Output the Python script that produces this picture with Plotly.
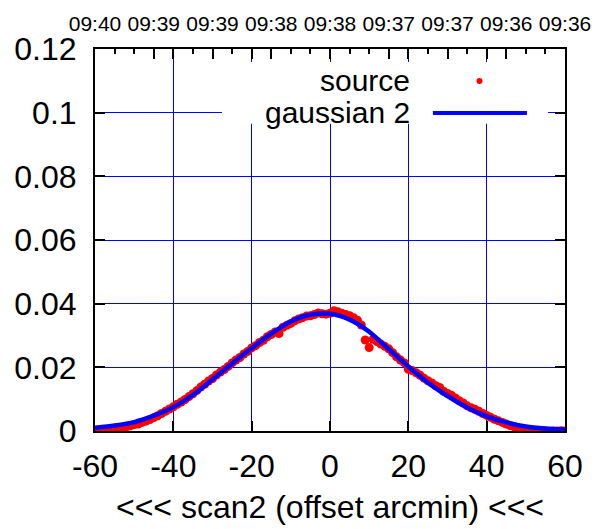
import plotly.graph_objects as go

# ---- data ----
src_x = list(range(-60, 61))
src_y = [
    0.0000, 0.0001, 0.0000, 0.0003, 0.0004, 0.0006, 0.0008, 0.0010, 0.0013, 0.0016,
    0.0020, 0.0022, 0.0027, 0.0031, 0.0036, 0.0042, 0.0048, 0.0055, 0.0062, 0.0069,
    0.0076, 0.0084, 0.0091, 0.0099, 0.0108, 0.0117, 0.0127, 0.0138, 0.0147, 0.0157,
    0.0165, 0.0176, 0.0185, 0.0193, 0.0203, 0.0214, 0.0223, 0.0231, 0.0242, 0.0250,
    0.0261, 0.0268, 0.0278, 0.0285, 0.0296, 0.0303, 0.0311, 0.0306, 0.0326, 0.0332,
    0.0338, 0.0346, 0.0352, 0.0356, 0.0361, 0.0362, 0.0366, 0.0371, 0.0368, 0.0367,
    0.0370, 0.0378, 0.0375, 0.0370, 0.0366, 0.0362, 0.0356, 0.0348, 0.0333, 0.0286,
    0.0262, 0.0288, 0.0281, 0.0273, 0.0266, 0.0258, 0.0246, 0.0233, 0.0223, 0.0214,
    0.0194, 0.0190, 0.0183, 0.0175, 0.0166, 0.0158, 0.0151, 0.0142, 0.0137, 0.0125,
    0.0118, 0.0112, 0.0104, 0.0095, 0.0088, 0.0079, 0.0073, 0.0068, 0.0062, 0.0055,
    0.0049, 0.0043, 0.0037, 0.0032, 0.0027, 0.0022, 0.0017, 0.0013, 0.0010, 0.0006,
    0.0004, 0.0002, 0.0001, -0.0001, -0.0001, 0.0000, -0.0001, 0.0000, 0.0000, 0.0001,
    0.0000,
]

fit_x = list(range(-60, 61, 5))
fit_y = [
    0.0010, 0.0017, 0.0028, 0.0048, 0.0075, 0.0113, 0.0162, 0.0212, 0.0260,
    0.0306, 0.0344, 0.0365, 0.0368, 0.0350, 0.0312, 0.0257, 0.0203, 0.0152,
    0.0110, 0.0074, 0.0046, 0.0027, 0.0014, 0.0008, 0.0005,
]

x_ticks = [-60, -40, -20, 0, 20, 40, 60]
x_tick_text = ["-60", "-40", "-20", "0", "20", "40", "60"]
y_ticks = [0, 0.02, 0.04, 0.06, 0.08, 0.1, 0.12]
y_tick_text = ["0", "0.02", "0.04", "0.06", "0.08", "0.1", "0.12"]
top_ticks = [-60, -45, -30, -15, 0, 15, 30, 45, 60]
top_tick_text = ["09:40", "09:39", "09:39", "09:38", "09:38",
                 "09:37", "09:37", "09:36", "09:36"]
top_minor = list(range(-60, 61, 5))

FONT = "Liberation Sans, Arial, sans-serif"

fig = go.Figure()
fig.add_trace(go.Scatter(x=src_x, y=src_y, mode="markers", name="source",
                         marker=dict(color="#ff0000", size=9), showlegend=False))
fig.add_trace(go.Scatter(x=fit_x, y=fit_y, mode="lines", name="gaussian 2",
                         line=dict(color="#0000ff", width=4.5, shape="spline", smoothing=0.8),
                         showlegend=False))
# invisible trace to carry the top (time) axis
fig.add_trace(go.Scatter(x=fit_x, y=fit_y, xaxis="x2", mode="lines",
                         line=dict(color="rgba(0,0,0,0)"), hoverinfo="skip",
                         showlegend=False))

# legend drawn like gnuplot: text on the left, sample on the right
fig.add_shape(type="rect", xref="paper", yref="paper", x0=0.270, x1=0.964,
              y0=0.804, y1=0.966, fillcolor="white", line=dict(width=0),
              layer="above")
fig.add_shape(type="circle", xref="paper", yref="paper",
              x0=0.8117, x1=0.8245, y0=0.9084, y1=0.9241,
              fillcolor="#ff0000", line=dict(width=0), layer="above")
fig.add_shape(type="line", xref="paper", yref="paper",
              x0=0.719, x1=0.919, y0=0.8325, y1=0.8325,
              line=dict(color="#0000ff", width=4), layer="above")
fig.add_annotation(text="source", xref="paper", yref="paper", x=0.6745, y=0.918,
                   xanchor="right", yanchor="middle", showarrow=False,
                   font=dict(size=30, color="black", family=FONT))
fig.add_annotation(text="gaussian 2", xref="paper", yref="paper", x=0.6745, y=0.833,
                   xanchor="right", yanchor="middle", showarrow=False,
                   font=dict(size=30, color="black", family=FONT))

axis_common = dict(showline=True, linecolor="black", linewidth=2,
                   ticks="inside", tickcolor="black", tickwidth=2, ticklen=10,
                   zeroline=False, automargin=False)

# page body has an 8px margin, so the figure is made 8px smaller and
# its left/top margins reduced by 8px to land the plot area where it should be
fig.update_layout(
    width=595, height=521,
    margin=dict(l=87, r=38, t=41, b=98),
    paper_bgcolor="white", plot_bgcolor="white",
    font=dict(family=FONT, color="black", size=32),
    showlegend=False,
    xaxis=dict(range=[-60, 60], tickmode="array", tickvals=x_ticks,
               ticktext=x_tick_text,
               mirror="ticks", showgrid=True, gridcolor="#0000ff", gridwidth=1,
               tickfont=dict(size=32), ticklabelstandoff=6,
               title=dict(text="<<< scan2 (offset arcmin) <<<",
                          font=dict(size=32), standoff=12),
               **axis_common),
    xaxis2=dict(range=[-60, 60], overlaying="x", side="top", anchor="y",
                tickmode="array", tickvals=top_ticks, ticktext=top_tick_text,
                showgrid=False, tickfont=dict(size=21), ticklabelstandoff=8,
                minor=dict(tickvals=top_minor, ticks="inside", ticklen=5,
                           tickwidth=2, tickcolor="black"),
                **axis_common),
    yaxis=dict(range=[0, 0.12], tickmode="array", tickvals=y_ticks,
               ticktext=y_tick_text, mirror="ticks", showgrid=True,
               gridcolor="#0000ff", gridwidth=1, tickfont=dict(size=32),
               ticklabelstandoff=10, **axis_common),
)

fig.write_html("out.html")
